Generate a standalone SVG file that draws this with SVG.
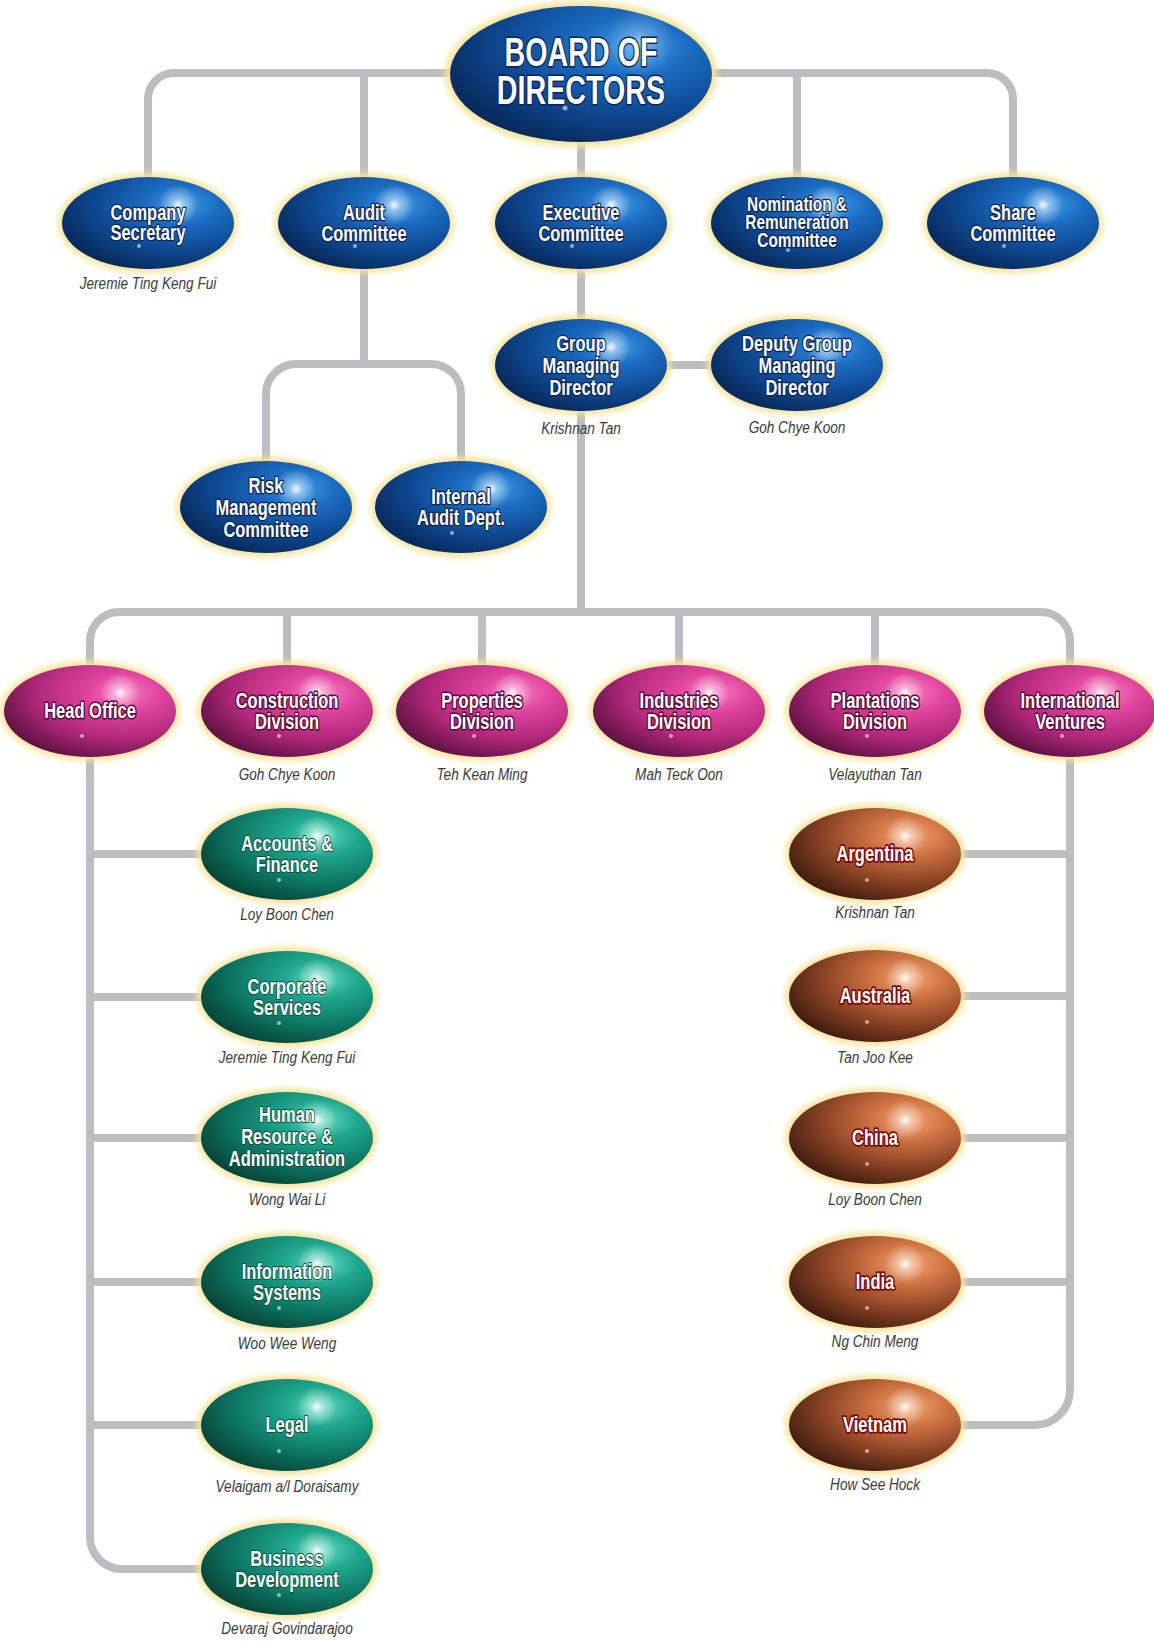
<svg xmlns="http://www.w3.org/2000/svg" width="1154" height="1641" viewBox="0 0 1154 1641">
<defs>
<style>
.t{font-family:"Liberation Sans",Arial,sans-serif;font-weight:bold;font-size:22px;fill:#fff;text-anchor:middle;paint-order:stroke;stroke-linejoin:round;stroke-width:2.6px}
.tb{stroke:#0a2350}
.tp{stroke:#5a0a3a;stroke-width:3.2px}
.tg{stroke:#0b4a3c;stroke-width:1.8px}
.tr{stroke:#7a0a0a;stroke-width:3.6px}
.big{font-size:41px;stroke-width:3px}
.sm{font-size:20.5px}
.n{font-family:"Liberation Sans",Arial,sans-serif;font-style:italic;font-size:17px;fill:#3a3a3a;text-anchor:middle}
.glow{fill:#f4e49c;filter:url(#blur)}
.hl{fill:url(#hl)}
.dot{fill:#fff;opacity:.55}
.conn{fill:none;stroke:#bcbdc0;stroke-width:8}
</style>
<filter id="blur" x="-20%" y="-30%" width="140%" height="160%"><feGaussianBlur stdDeviation="3"/></filter>
<radialGradient id="gb" cx="0.7" cy="0.3" r="0.85"><stop offset="0" stop-color="#3d9be6"/><stop offset="0.25" stop-color="#1c6cc2"/><stop offset="0.6" stop-color="#0e4790"/><stop offset="1" stop-color="#07204a"/></radialGradient>
<radialGradient id="gp" cx="0.7" cy="0.3" r="0.85"><stop offset="0" stop-color="#f57cc0"/><stop offset="0.25" stop-color="#e0449e"/><stop offset="0.6" stop-color="#b0287a"/><stop offset="1" stop-color="#470b32"/></radialGradient>
<radialGradient id="gg" cx="0.7" cy="0.3" r="0.85"><stop offset="0" stop-color="#62d8c0"/><stop offset="0.25" stop-color="#1fa88e"/><stop offset="0.6" stop-color="#0d7664"/><stop offset="1" stop-color="#05362b"/></radialGradient>
<radialGradient id="gr" cx="0.7" cy="0.3" r="0.85"><stop offset="0" stop-color="#f2a676"/><stop offset="0.25" stop-color="#d07444"/><stop offset="0.6" stop-color="#8a4224"/><stop offset="1" stop-color="#2c130b"/></radialGradient>
<radialGradient id="hl"><stop offset="0" stop-color="#fff" stop-opacity="0.95"/><stop offset="0.3" stop-color="#fff" stop-opacity="0.45"/><stop offset="1" stop-color="#fff" stop-opacity="0"/></radialGradient>
</defs>
<rect width="1154" height="1641" fill="#fff"/>

<g id="connectors" class="conn">
<path d="M148 180 V99 A26 26 0 0 1 174 73 H987 A26 26 0 0 1 1013 99 V180"/>
<path d="M364 73 V180 M797 73 V180 M581 140 V180"/>
<path d="M581 266 V322 M667 365 H713"/>
<path d="M364 266 V364 M266 465 V394 A30 30 0 0 1 296 364 H431 A30 30 0 0 1 461 394 V465"/>
<path d="M581 410 V612"/>
<path d="M90 668 V641 A29 29 0 0 1 119 612 H1041 A29 29 0 0 1 1070 641 V668"/>
<path d="M287 612 V668 M482 612 V668 M679 612 V668 M875 612 V668"/>
<path d="M90 755 V1537 A32 32 0 0 0 122 1569 H205"/>
<path d="M90 854 H205 M90 997 H205 M90 1138 H205 M90 1282 H205 M90 1425 H205"/>
<path d="M1070 755 V1390 A35 35 0 0 1 1035 1425 H958"/>
<path d="M1070 854 H958 M1070 996 H958 M1070 1138 H958 M1070 1282 H958"/>
</g>

<g id="board">
<ellipse class="glow" cx="581" cy="74" rx="136" ry="73"/>
<ellipse cx="581" cy="74" rx="131" ry="68" fill="url(#gb)"/>
<circle class="hl" cx="640" cy="42" r="34" opacity="0.5"/>
<circle class="dot" cx="565" cy="108" r="2.5"/>
<g transform="translate(581 0) scale(0.7 1)">
<text class="t tb big" x="0" y="66">BOARD OF</text>
<text class="t tb big" x="0" y="104">DIRECTORS</text>
</g>
</g>

<g id="company-secretary">
<ellipse class="glow" cx="148" cy="223" rx="90" ry="50"/>
<ellipse cx="148" cy="223" rx="86" ry="46" fill="url(#gb)"/>
<circle class="hl" cx="178" cy="205" r="20"/>
<circle class="dot" cx="139" cy="246" r="2"/>
<g transform="translate(148 0) scale(0.75 1)">
<text class="t tb" x="0" y="220">Company</text>
<text class="t tb" x="0" y="240">Secretary</text>
</g>
<text class="n" transform="translate(148 289) scale(0.8 1)">Jeremie Ting Keng Fui</text>
</g>

<g id="audit-committee">
<ellipse class="glow" cx="364" cy="223" rx="90" ry="50"/>
<ellipse cx="364" cy="223" rx="86" ry="46" fill="url(#gb)"/>
<circle class="hl" cx="394" cy="205" r="20"/>
<circle class="dot" cx="355" cy="246" r="2"/>
<g transform="translate(364 0) scale(0.75 1)">
<text class="t tb" x="0" y="220">Audit</text>
<text class="t tb" x="0" y="241">Committee</text>
</g>
</g>

<g id="executive-committee">
<ellipse class="glow" cx="581" cy="223" rx="90" ry="50"/>
<ellipse cx="581" cy="223" rx="86" ry="46" fill="url(#gb)"/>
<circle class="hl" cx="611" cy="205" r="20"/>
<circle class="dot" cx="572" cy="246" r="2"/>
<g transform="translate(581 0) scale(0.75 1)">
<text class="t tb" x="0" y="220">Executive</text>
<text class="t tb" x="0" y="241">Committee</text>
</g>
</g>

<g id="nomination-remuneration">
<ellipse class="glow" cx="797" cy="223" rx="90" ry="50"/>
<ellipse cx="797" cy="223" rx="86" ry="46" fill="url(#gb)"/>
<circle class="hl" cx="827" cy="205" r="20"/>
<circle class="dot" cx="788" cy="250" r="2"/>
<g transform="translate(797 0) scale(0.75 1)">
<text class="t tb sm" x="0" y="211">Nomination &amp;</text>
<text class="t tb sm" x="0" y="229">Remuneration</text>
<text class="t tb sm" x="0" y="247">Committee</text>
</g>
</g>

<g id="share-committee">
<ellipse class="glow" cx="1013" cy="223" rx="90" ry="50"/>
<ellipse cx="1013" cy="223" rx="86" ry="46" fill="url(#gb)"/>
<circle class="hl" cx="1043" cy="205" r="20"/>
<circle class="dot" cx="1004" cy="246" r="2"/>
<g transform="translate(1013 0) scale(0.75 1)">
<text class="t tb" x="0" y="220">Share</text>
<text class="t tb" x="0" y="241">Committee</text>
</g>
</g>

<g id="group-md">
<ellipse class="glow" cx="581" cy="365" rx="90" ry="50"/>
<ellipse cx="581" cy="365" rx="86" ry="46" fill="url(#gb)"/>
<circle class="hl" cx="611" cy="347" r="20"/>
<g transform="translate(581 0) scale(0.75 1)">
<text class="t tb" x="0" y="351">Group</text>
<text class="t tb" x="0" y="373">Managing</text>
<text class="t tb" x="0" y="395">Director</text>
</g>
<text class="n" transform="translate(581 434) scale(0.8 1)">Krishnan Tan</text>
</g>

<g id="deputy-group-md">
<ellipse class="glow" cx="797" cy="365" rx="90" ry="50"/>
<ellipse cx="797" cy="365" rx="86" ry="46" fill="url(#gb)"/>
<circle class="hl" cx="827" cy="347" r="20"/>
<g transform="translate(797 0) scale(0.75 1)">
<text class="t tb" x="0" y="351">Deputy Group</text>
<text class="t tb" x="0" y="373">Managing</text>
<text class="t tb" x="0" y="395">Director</text>
</g>
<text class="n" transform="translate(797 433) scale(0.8 1)">Goh Chye Koon</text>
</g>

<g id="risk-management">
<ellipse class="glow" cx="266" cy="507" rx="90" ry="50"/>
<ellipse cx="266" cy="507" rx="86" ry="46" fill="url(#gb)"/>
<circle class="hl" cx="296" cy="489" r="20"/>
<g transform="translate(266 0) scale(0.75 1)">
<text class="t tb" x="0" y="493">Risk</text>
<text class="t tb" x="0" y="515">Management</text>
<text class="t tb" x="0" y="537">Committee</text>
</g>
</g>

<g id="internal-audit">
<ellipse class="glow" cx="461" cy="507" rx="90" ry="50"/>
<ellipse cx="461" cy="507" rx="86" ry="46" fill="url(#gb)"/>
<circle class="hl" cx="491" cy="489" r="20"/>
<circle class="dot" cx="452" cy="533" r="2"/>
<g transform="translate(461 0) scale(0.75 1)">
<text class="t tb" x="0" y="504">Internal</text>
<text class="t tb" x="0" y="525">Audit Dept.</text>
</g>
</g>

<g id="head-office">
<ellipse class="glow" cx="90" cy="711" rx="90" ry="50"/>
<ellipse cx="90" cy="711" rx="86" ry="46" fill="url(#gp)"/>
<circle class="hl" cx="120" cy="693" r="20"/>
<circle class="dot" cx="82" cy="736" r="2"/>
<g transform="translate(90 0) scale(0.75 1)">
<text class="t tp" x="0" y="718">Head Office</text>
</g>
</g>

<g id="construction-division">
<ellipse class="glow" cx="287" cy="711" rx="90" ry="50"/>
<ellipse cx="287" cy="711" rx="86" ry="46" fill="url(#gp)"/>
<circle class="hl" cx="317" cy="693" r="20"/>
<circle class="dot" cx="279" cy="736" r="2"/>
<g transform="translate(287 0) scale(0.75 1)">
<text class="t tp" x="0" y="708">Construction</text>
<text class="t tp" x="0" y="729">Division</text>
</g>
<text class="n" transform="translate(287 780) scale(0.8 1)">Goh Chye Koon</text>
</g>

<g id="properties-division">
<ellipse class="glow" cx="482" cy="711" rx="90" ry="50"/>
<ellipse cx="482" cy="711" rx="86" ry="46" fill="url(#gp)"/>
<circle class="hl" cx="512" cy="693" r="20"/>
<circle class="dot" cx="474" cy="736" r="2"/>
<g transform="translate(482 0) scale(0.75 1)">
<text class="t tp" x="0" y="708">Properties</text>
<text class="t tp" x="0" y="729">Division</text>
</g>
<text class="n" transform="translate(482 780) scale(0.8 1)">Teh Kean Ming</text>
</g>

<g id="industries-division">
<ellipse class="glow" cx="679" cy="711" rx="90" ry="50"/>
<ellipse cx="679" cy="711" rx="86" ry="46" fill="url(#gp)"/>
<circle class="hl" cx="709" cy="693" r="20"/>
<circle class="dot" cx="671" cy="736" r="2"/>
<g transform="translate(679 0) scale(0.75 1)">
<text class="t tp" x="0" y="708">Industries</text>
<text class="t tp" x="0" y="729">Division</text>
</g>
<text class="n" transform="translate(679 780) scale(0.8 1)">Mah Teck Oon</text>
</g>

<g id="plantations-division">
<ellipse class="glow" cx="875" cy="711" rx="90" ry="50"/>
<ellipse cx="875" cy="711" rx="86" ry="46" fill="url(#gp)"/>
<circle class="hl" cx="905" cy="693" r="20"/>
<circle class="dot" cx="867" cy="736" r="2"/>
<g transform="translate(875 0) scale(0.75 1)">
<text class="t tp" x="0" y="708">Plantations</text>
<text class="t tp" x="0" y="729">Division</text>
</g>
<text class="n" transform="translate(875 780) scale(0.8 1)">Velayuthan Tan</text>
</g>

<g id="international-ventures">
<ellipse class="glow" cx="1070" cy="711" rx="90" ry="50"/>
<ellipse cx="1070" cy="711" rx="86" ry="46" fill="url(#gp)"/>
<circle class="hl" cx="1100" cy="693" r="20"/>
<circle class="dot" cx="1062" cy="736" r="2"/>
<g transform="translate(1070 0) scale(0.75 1)">
<text class="t tp" x="0" y="708">International</text>
<text class="t tp" x="0" y="729">Ventures</text>
</g>
</g>

<g id="accounts-finance">
<ellipse class="glow" cx="287" cy="854" rx="90" ry="50"/>
<ellipse cx="287" cy="854" rx="86" ry="46" fill="url(#gg)"/>
<circle class="hl" cx="317" cy="836" r="20"/>
<circle class="dot" cx="279" cy="880" r="2"/>
<g transform="translate(287 0) scale(0.75 1)">
<text class="t tg" x="0" y="851">Accounts &amp;</text>
<text class="t tg" x="0" y="872">Finance</text>
</g>
<text class="n" transform="translate(287 920) scale(0.8 1)">Loy Boon Chen</text>
</g>

<g id="corporate-services">
<ellipse class="glow" cx="287" cy="997" rx="90" ry="50"/>
<ellipse cx="287" cy="997" rx="86" ry="46" fill="url(#gg)"/>
<circle class="hl" cx="317" cy="979" r="20"/>
<circle class="dot" cx="279" cy="1023" r="2"/>
<g transform="translate(287 0) scale(0.75 1)">
<text class="t tg" x="0" y="994">Corporate</text>
<text class="t tg" x="0" y="1015">Services</text>
</g>
<text class="n" transform="translate(287 1063) scale(0.8 1)">Jeremie Ting Keng Fui</text>
</g>

<g id="human-resource">
<ellipse class="glow" cx="287" cy="1138" rx="90" ry="50"/>
<ellipse cx="287" cy="1138" rx="86" ry="46" fill="url(#gg)"/>
<circle class="hl" cx="317" cy="1120" r="20"/>
<g transform="translate(287 0) scale(0.75 1)">
<text class="t tg" x="0" y="1122">Human</text>
<text class="t tg" x="0" y="1144">Resource &amp;</text>
<text class="t tg" x="0" y="1166">Administration</text>
</g>
<text class="n" transform="translate(287 1205) scale(0.8 1)">Wong Wai Li</text>
</g>

<g id="information-systems">
<ellipse class="glow" cx="287" cy="1282" rx="90" ry="50"/>
<ellipse cx="287" cy="1282" rx="86" ry="46" fill="url(#gg)"/>
<circle class="hl" cx="317" cy="1264" r="20"/>
<circle class="dot" cx="279" cy="1308" r="2"/>
<g transform="translate(287 0) scale(0.75 1)">
<text class="t tg" x="0" y="1279">Information</text>
<text class="t tg" x="0" y="1300">Systems</text>
</g>
<text class="n" transform="translate(287 1349) scale(0.8 1)">Woo Wee Weng</text>
</g>

<g id="legal">
<ellipse class="glow" cx="287" cy="1425" rx="90" ry="50"/>
<ellipse cx="287" cy="1425" rx="86" ry="46" fill="url(#gg)"/>
<circle class="hl" cx="317" cy="1407" r="20"/>
<circle class="dot" cx="279" cy="1451" r="2"/>
<g transform="translate(287 0) scale(0.75 1)">
<text class="t tg" x="0" y="1432">Legal</text>
</g>
<text class="n" transform="translate(287 1492) scale(0.8 1)">Velaigam a/l Doraisamy</text>
</g>

<g id="business-development">
<ellipse class="glow" cx="287" cy="1569" rx="90" ry="50"/>
<ellipse cx="287" cy="1569" rx="86" ry="46" fill="url(#gg)"/>
<circle class="hl" cx="317" cy="1551" r="20"/>
<circle class="dot" cx="279" cy="1595" r="2"/>
<g transform="translate(287 0) scale(0.75 1)">
<text class="t tg" x="0" y="1566">Business</text>
<text class="t tg" x="0" y="1587">Development</text>
</g>
<text class="n" transform="translate(287 1634) scale(0.8 1)">Devaraj Govindarajoo</text>
</g>

<g id="argentina">
<ellipse class="glow" cx="875" cy="854" rx="90" ry="50"/>
<ellipse cx="875" cy="854" rx="86" ry="46" fill="url(#gr)"/>
<circle class="hl" cx="905" cy="836" r="20"/>
<circle class="dot" cx="867" cy="880" r="2"/>
<g transform="translate(875 0) scale(0.75 1)">
<text class="t tr" x="0" y="861">Argentina</text>
</g>
<text class="n" transform="translate(875 918) scale(0.8 1)">Krishnan Tan</text>
</g>

<g id="australia">
<ellipse class="glow" cx="875" cy="996" rx="90" ry="50"/>
<ellipse cx="875" cy="996" rx="86" ry="46" fill="url(#gr)"/>
<circle class="hl" cx="905" cy="978" r="20"/>
<circle class="dot" cx="867" cy="1022" r="2"/>
<g transform="translate(875 0) scale(0.75 1)">
<text class="t tr" x="0" y="1003">Australia</text>
</g>
<text class="n" transform="translate(875 1063) scale(0.8 1)">Tan Joo Kee</text>
</g>

<g id="china">
<ellipse class="glow" cx="875" cy="1138" rx="90" ry="50"/>
<ellipse cx="875" cy="1138" rx="86" ry="46" fill="url(#gr)"/>
<circle class="hl" cx="905" cy="1120" r="20"/>
<circle class="dot" cx="867" cy="1164" r="2"/>
<g transform="translate(875 0) scale(0.75 1)">
<text class="t tr" x="0" y="1145">China</text>
</g>
<text class="n" transform="translate(875 1205) scale(0.8 1)">Loy Boon Chen</text>
</g>

<g id="india">
<ellipse class="glow" cx="875" cy="1282" rx="90" ry="50"/>
<ellipse cx="875" cy="1282" rx="86" ry="46" fill="url(#gr)"/>
<circle class="hl" cx="905" cy="1264" r="20"/>
<circle class="dot" cx="867" cy="1308" r="2"/>
<g transform="translate(875 0) scale(0.75 1)">
<text class="t tr" x="0" y="1289">India</text>
</g>
<text class="n" transform="translate(875 1347) scale(0.8 1)">Ng Chin Meng</text>
</g>

<g id="vietnam">
<ellipse class="glow" cx="875" cy="1425" rx="90" ry="50"/>
<ellipse cx="875" cy="1425" rx="86" ry="46" fill="url(#gr)"/>
<circle class="hl" cx="905" cy="1407" r="20"/>
<circle class="dot" cx="867" cy="1451" r="2"/>
<g transform="translate(875 0) scale(0.75 1)">
<text class="t tr" x="0" y="1432">Vietnam</text>
</g>
<text class="n" transform="translate(875 1490) scale(0.8 1)">How See Hock</text>
</g>
</svg>
